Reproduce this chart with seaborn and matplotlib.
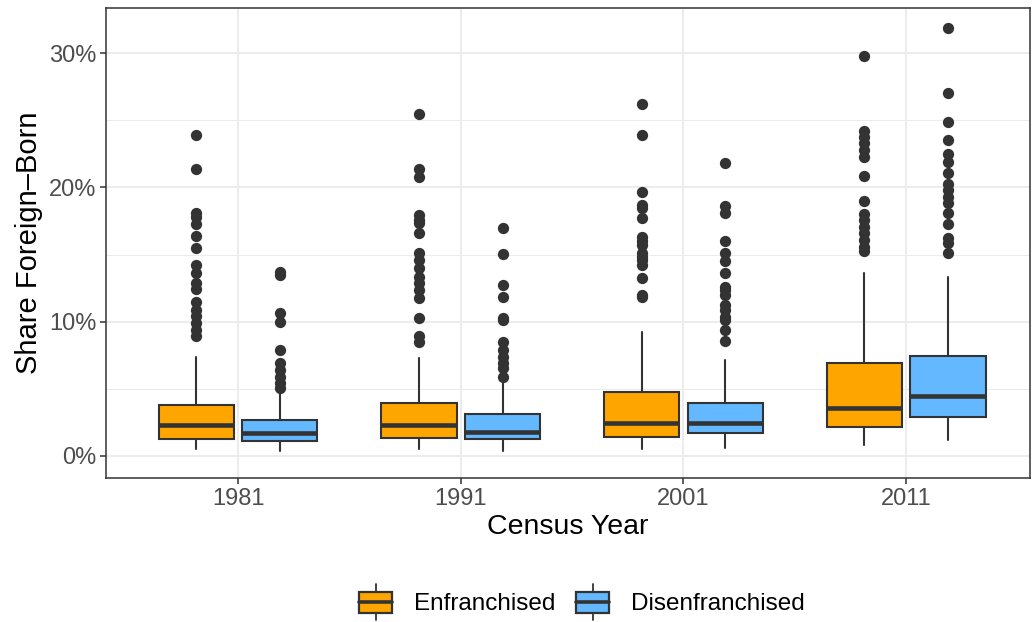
import numpy as np
import pandas as pd
import matplotlib
matplotlib.use('Agg')
import matplotlib.pyplot as plt
from matplotlib.patches import Rectangle
from matplotlib.lines import Line2D
from matplotlib.legend_handler import HandlerBase
from matplotlib.ticker import MultipleLocator, FuncFormatter
import seaborn as sns

# ── Data (share foreign-born, %) ────────────────────────────────
years = ['1981', '1991', '2001', '2011']
groups = ['Enfranchised', 'Disenfranchised']
colors = ['#FFA500', '#63B8FF']

# Enfranchised box stats
enf_lo = [0.50, 0.50, 0.50, 0.82]
enf_q1 = [1.27, 1.32, 1.44, 2.13]
enf_med = [2.30, 2.31, 2.48, 3.60]
enf_q3 = [3.80, 3.97, 4.79, 6.95]
enf_hi = [7.40, 7.27, 9.26, 13.60]
enf_out = [
    [23.9, 21.4, 18.1, 17.8, 17.3, 16.4, 15.5, 14.2, 13.65, 12.9, 12.4, 11.5,
     10.9, 10.4, 9.9, 9.4, 8.9],
    [25.47, 21.37, 20.75, 17.94, 17.6, 17.33, 16.58, 15.09, 14.59, 13.98, 13.35,
     12.86, 12.36, 11.74, 10.25, 8.96, 8.51],
    [26.2, 23.9, 19.68, 18.69, 18.44, 17.7, 16.33, 16.0, 15.71, 15.09, 14.8,
     14.59, 14.22, 13.23, 12.0, 11.86],
    [29.78, 24.22, 23.78, 23.28, 22.78, 22.29, 20.87, 19.01, 18.02, 17.57,
     17.07, 16.58, 16.08, 15.54, 15.29],
]

# Disenfranchised box stats
dis_lo = [0.37, 0.40, 0.57, 1.19]
dis_q1 = [1.14, 1.27, 1.69, 2.93]
dis_med = [1.69, 1.81, 2.43, 4.47]
dis_q3 = [2.68, 3.10, 3.92, 7.47]
dis_hi = [4.70, 5.46, 7.15, 13.35]
dis_out = [
    [13.7, 13.5, 10.67, 10.0, 7.9, 6.9, 6.4, 5.9, 5.4, 5.04],
    [17.0, 15.02, 12.73, 11.86, 10.25, 10.13, 8.51, 7.89, 7.39, 6.9, 6.53, 5.9],
    [21.84, 18.62, 18.07, 16.0, 15.09, 14.54, 13.6, 12.6, 12.36, 11.99, 11.24,
     10.87, 10.37, 10.13, 9.38, 8.59],
    [31.85, 27.05, 24.85, 23.53, 22.49, 21.91, 21.1, 20.25, 19.81, 19.31, 18.86,
     18.07, 17.25, 16.21, 15.84, 15.09],
]

EDGE = '#333333'
DODGE = 0.1875
BOX_W = 0.3375


class HandlerBoxKey(HandlerBase):
    """ggplot-style boxplot legend key."""
    def create_artists(self, legend, orig_handle, xdescent, ydescent,
                       width, height, fontsize, trans):
        pad = height * 0.28
        rect = Rectangle((-xdescent, -ydescent + pad * 0.2), width, height - pad * 0.4,
                         facecolor=orig_handle.get_facecolor(), edgecolor=EDGE,
                         linewidth=1.6, transform=trans)
        cx = -xdescent + width / 2
        mid = -ydescent + height / 2
        med = Line2D([-xdescent, -xdescent + width], [mid, mid], color=EDGE,
                     linewidth=2.6, transform=trans)
        top = Line2D([cx, cx], [-ydescent + height - pad * 0.2, -ydescent + height + pad],
                     color=EDGE, linewidth=1.3, transform=trans)
        bot = Line2D([cx, cx], [-ydescent + pad * 0.2, -ydescent - pad],
                     color=EDGE, linewidth=1.3, transform=trans)
        return [rect, med, top, bot]


def main():
    sns.set_theme(style='white')
    plt.rcParams['font.family'] = ['Liberation Sans', 'DejaVu Sans']

    fig = plt.figure(figsize=(10.32, 6.22), dpi=100)
    ax = fig.add_axes([106 / 1032, 1 - 478 / 622, (1030 - 106) / 1032, (478 - 8) / 622])

    # grid
    ax.set_axisbelow(True)
    ax.yaxis.set_major_locator(MultipleLocator(10))
    ax.yaxis.set_minor_locator(MultipleLocator(5))
    ax.grid(which='major', color='#EBEBEB', linewidth=1.3)
    ax.grid(which='minor', axis='y', color='#EBEBEB', linewidth=0.7)

    stat_sets = [
        (enf_lo, enf_q1, enf_med, enf_q3, enf_hi),
        (dis_lo, dis_q1, dis_med, dis_q3, dis_hi),
    ]
    rows = []
    for g, (lo, q1, med, q3, hi) in enumerate(stat_sets):
        stats = [dict(whislo=lo[i], q1=q1[i], med=med[i], q3=q3[i], whishi=hi[i], fliers=[])
                 for i in range(len(years))]
        pos = [i + (2 * g - 1) * DODGE for i in range(len(years))]
        ax.bxp(stats, positions=pos, widths=BOX_W, patch_artist=True,
               showfliers=False, showcaps=False,
               boxprops=dict(facecolor=colors[g], edgecolor=EDGE, linewidth=1.5),
               medianprops=dict(color=EDGE, linewidth=3.3, solid_capstyle='butt'),
               whiskerprops=dict(color=EDGE, linewidth=1.5))
        outs = enf_out if g == 0 else dis_out
        for i, vals in enumerate(outs):
            for v in vals:
                rows.append({'pos': pos[i], 'value': v, 'group': groups[g]})

    fliers = pd.DataFrame(rows)
    sns.scatterplot(data=fliers, x='pos', y='value', color=EDGE, s=66,
                    linewidth=0, ax=ax, legend=False, zorder=3)

    ax.set_xlim(-0.593, 3.556)
    ax.set_ylim(-1.64, 33.36)
    ax.set_xticks(range(len(years)))
    ax.set_xticklabels(years)
    ax.yaxis.set_major_formatter(FuncFormatter(lambda v, _: f'{v:.0f}%'))

    ax.tick_params(axis='both', which='major', direction='out', length=4, width=1.1,
                   color=EDGE, labelcolor='#4D4D4D', labelsize=17, pad=3, left=True, bottom=True)
    ax.tick_params(axis='y', which='minor', length=0)
    for s in ax.spines.values():
        s.set_color(EDGE)
        s.set_linewidth(1.1)
        s.set_visible(True)

    ax.set_xlabel('Census Year', fontsize=20.5, color='black', labelpad=3)
    ax.set_ylabel('Share Foreign\u2013Born', fontsize=21, color='black', labelpad=4)

    handles = [Rectangle((0, 0), 1, 1, facecolor=c) for c in colors]
    fig.legend(handles, groups, loc='center', bbox_to_anchor=(582 / 1032, 1 - 603 / 622),
               ncol=2, frameon=False, fontsize=17.5, labelcolor='black',
               handler_map={Rectangle: HandlerBoxKey()},
               handlelength=1.35, handleheight=1.1, handletextpad=0.9, columnspacing=0.85)

    plt.savefig('out.png', dpi=100)
    plt.close()


if __name__ == '__main__':
    main()
